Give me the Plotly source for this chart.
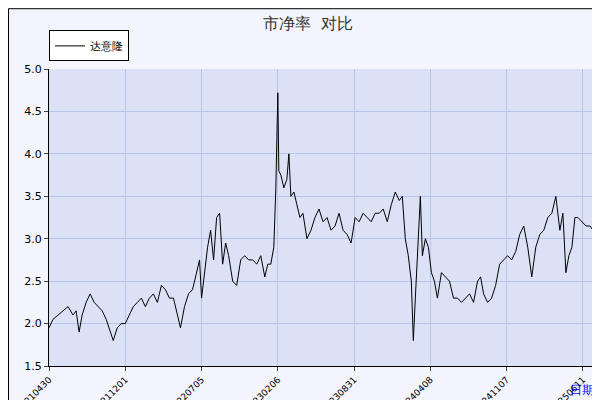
import plotly.graph_objects as go

px = [41,45,50,55,60,65,68,71,74,78,82,86,90,94,98,102,105,109,113,117,121,125,129,133,137,141,145,149,153,157,161,165,169,172,176,180,184,188,191,193,196,199,202,205,208,211,214,217,220,224,228,232,236,240,244,248,252,256,259,262,265,267,269,270,272,275,278,280,282,285,288,291,294,298,302,306,310,314,318,322,326,330,334,338,342,346,350,354,358,362,366,370,374,378,382,386,390,393,396,399,402,404,406,409,411,413,416,419,422,425,428,432,436,440,444,448,452,456,460,464,468,471,474,478,482,486,490,494,498,502,506,510,514,518,522,526,530,534,538,542,546,550,553,556,559,562,565,568,572,576,580,583]
days = [(p - 41) * 2 for p in px]
values = [1.95,2.05,2.1,2.15,2.2,2.1,2.15,1.9,2.1,2.25,2.35,2.25,2.2,2.15,2.05,1.9,1.8,1.95,2.0,2.0,2.1,2.2,2.25,2.3,2.2,2.3,2.35,2.25,2.45,2.4,2.3,2.3,2.1,1.95,2.2,2.35,2.4,2.6,2.75,2.3,2.6,2.9,3.1,2.75,3.25,3.3,2.7,2.95,2.8,2.5,2.45,2.75,2.8,2.75,2.75,2.7,2.8,2.55,2.7,2.7,2.9,3.6,4.72,3.8,3.75,3.6,3.7,4.0,3.5,3.55,3.4,3.25,3.3,3.0,3.1,3.25,3.35,3.2,3.25,3.1,3.15,3.3,3.1,3.05,2.95,3.25,3.2,3.3,3.25,3.2,3.3,3.3,3.35,3.2,3.4,3.55,3.45,3.5,3.0,2.8,2.5,1.8,2.3,3.0,3.5,2.8,3.0,2.9,2.6,2.5,2.3,2.6,2.55,2.5,2.3,2.3,2.25,2.3,2.35,2.25,2.5,2.55,2.35,2.25,2.3,2.45,2.7,2.75,2.8,2.75,2.85,3.05,3.15,2.9,2.55,2.9,3.05,3.1,3.25,3.3,3.5,3.1,3.3,2.6,2.8,2.9,3.25,3.25,3.2,3.15,3.15,3.1]
tick_labels = ["20210430","20211201","20220705","20230206","20230831","20240408","20241107","20250611"]
tick_vals = [i * 152 for i in range(len(tick_labels))]

fig = go.Figure(go.Scatter(x=days, y=values, mode="lines", name="达意隆",
                           line=dict(color="black", width=1)))
fig.update_layout(
    width=600, height=400, margin=dict(l=41, r=12, t=61, b=42, autoexpand=False),
    paper_bgcolor="#f3f4fc", plot_bgcolor="#dce2f6",
    font=dict(family="DejaVu Sans", size=11, color="black"),
    title=dict(text="市净率  对比", x=0.5, y=0.975, xanchor="center", font=dict(size=16, color="#333")),
    showlegend=True,
    legend=dict(x=0.0, y=1.13, xanchor="left", yanchor="top", bgcolor="white", itemwidth=30,
                bordercolor="black", borderwidth=1, font=dict(size=11)),
    xaxis=dict(range=[0, 1090], tickvals=tick_vals, ticktext=tick_labels, tickangle=-45,
               showgrid=True, gridcolor="#b8c4e8", ticks="outside", ticklen=4,
               showline=True, linecolor="black", tickfont=dict(size=9), zeroline=False),
    yaxis=dict(range=[1.5, 5.0], dtick=0.5, tickformat=".1f", showgrid=True, gridcolor="#b8c4e8",
               ticks="outside", ticklen=4, showline=True, linecolor="black", zeroline=False),
    shapes=[dict(type="rect", xref="paper", yref="paper", x0=-0.074, x1=1.016, y0=-0.12, y1=1.203,
                 line=dict(color="black", width=1))],
    annotations=[dict(text="日期", xref="paper", yref="paper", x=1.0, y=-0.05, xanchor="right",
                      yanchor="top", showarrow=False, font=dict(color="blue", size=12))],
)
fig.write_html("out.html")
